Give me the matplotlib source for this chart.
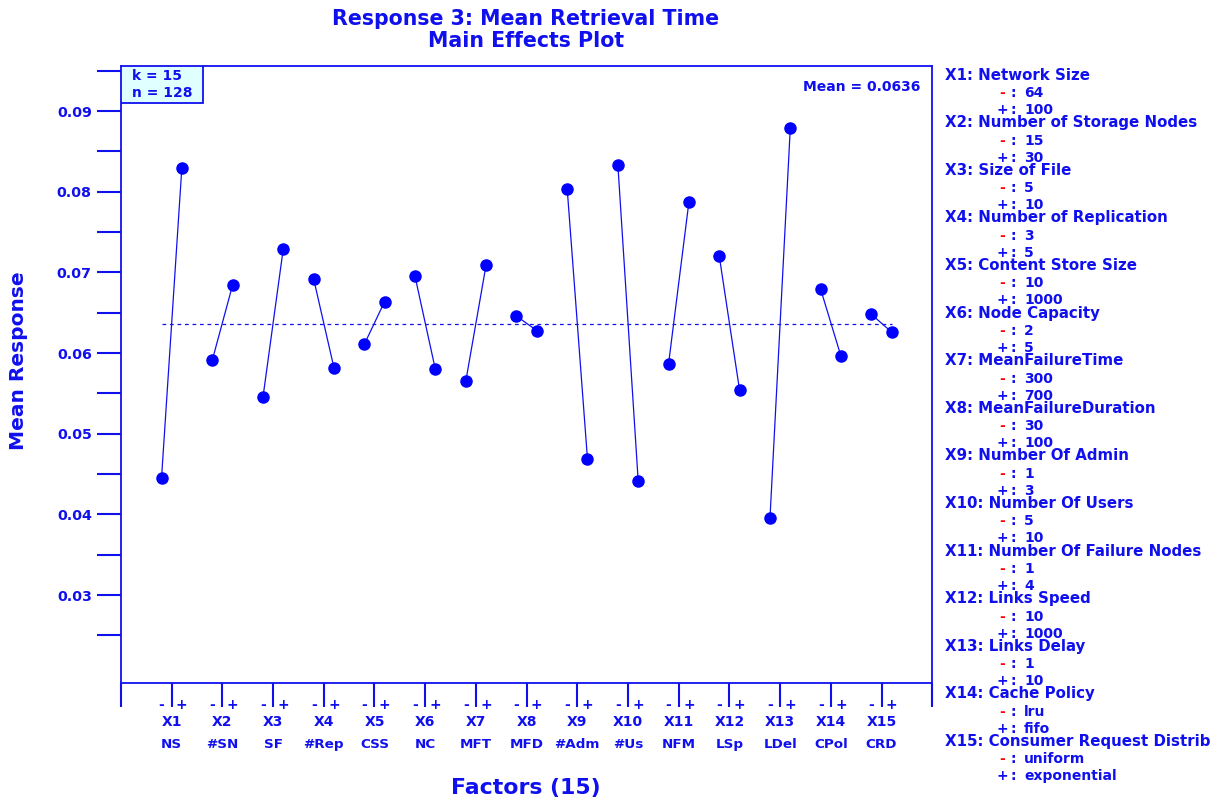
"""
Main effects plot - Response 3: Mean Retrieval Time
"""
import matplotlib
matplotlib.use('Agg')
import matplotlib.pyplot as plt
from matplotlib.patches import Rectangle

plt.rcParams['font.family'] = ['DejaVu Sans']
plt.rcParams['font.weight'] = 'bold'

BLUE = '#1010ee'

# Data
factors = ['X1', 'X2', 'X3', 'X4', 'X5', 'X6', 'X7', 'X8', 'X9', 'X10',
           'X11', 'X12', 'X13', 'X14', 'X15']
short_names = ['NS', '#SN', 'SF', '#Rep', 'CSS', 'NC', 'MFT', 'MFD', '#Adm', '#Us',
               'NFM', 'LSp', 'LDel', 'CPol', 'CRD']
low_means = [0.0445, 0.0591, 0.0545, 0.0692, 0.0611, 0.0695, 0.0565, 0.0646,
             0.0804, 0.0833, 0.0587, 0.0720, 0.0396, 0.0679, 0.0648]
high_means = [0.0829, 0.0684, 0.0729, 0.0582, 0.0664, 0.0580, 0.0709, 0.0628,
              0.0469, 0.0442, 0.0787, 0.0554, 0.0879, 0.0596, 0.0626]
grand_mean = 0.0636
k_factors = 15
n_runs = 128

legend_names = ['Network Size', 'Number of Storage Nodes', 'Size of File',
                'Number of Replication', 'Content Store Size', 'Node Capacity',
                'MeanFailureTime', 'MeanFailureDuration', 'Number Of Admin',
                'Number Of Users', 'Number Of Failure Nodes', 'Links Speed',
                'Links Delay', 'Cache Policy', 'Consumer Request Distrib']
low_levels = ['64', '15', '5', '3', '10', '2', '300', '30', '1', '5', '1', '10',
              '1', 'lru', 'uniform']
high_levels = ['100', '30', '10', '5', '1000', '5', '700', '100', '3', '10', '4',
               '1000', '10', 'fifo', 'exponential']

yticks = [0.03, 0.04, 0.05, 0.06, 0.07, 0.08, 0.09]

fig = plt.figure(figsize=(12.12, 8.05), dpi=100)
ax = fig.add_axes([0.0998, 0.1516, 0.6694, 0.7664])

off = 0.2
for i in range(len(factors)):
    pos = i + 1
    ax.plot([pos - off, pos + off], [low_means[i], high_means[i]], '-',
            color=BLUE, linewidth=0.9, marker='o', markersize=8,
            markerfacecolor='#0000ff', markeredgecolor='#0000ff', zorder=3)

ax.plot([1 - off, len(factors) + off], [grand_mean, grand_mean], '--',
        color=BLUE, linewidth=0.9, dashes=(3, 3))

ax.set_xlim(0, 16)
ax.set_ylim(0.0191, 0.0956)

# y axis ticks
ax.set_yticks(yticks)
ax.set_yticklabels([f'{t:.2f}' for t in yticks])
ax.set_yticks([t + 0.005 for t in [0.02] + yticks], minor=True)
ax.tick_params(axis='y', which='both', direction='out', length=17, width=1.5,
               color=BLUE, labelcolor=BLUE, labelsize=10.3, pad=4)

# x axis ticks
ax.set_xticks(range(0, 17))
ax.set_xticklabels([])
ax.tick_params(axis='x', which='major', direction='out', length=17, width=1.5,
               color=BLUE)

for sp in ax.spines.values():
    sp.set_color(BLUE)
    sp.set_linewidth(1.3)

trans = ax.get_xaxis_transform()
for i in range(len(factors)):
    pos = i + 1
    ax.text(pos - off, -0.036, '-', transform=trans, ha='center', va='center',
            color=BLUE, fontsize=10)
    ax.text(pos + off, -0.036, '+', transform=trans, ha='center', va='center',
            color=BLUE, fontsize=10)
    ax.text(pos, -0.064, factors[i], transform=trans, ha='center', va='center',
            color=BLUE, fontsize=10)
    ax.text(pos, -0.099, short_names[i], transform=trans, ha='center', va='center',
            color=BLUE, fontsize=9.7)

# k / n box
box = Rectangle((0, 0.94), 0.101, 0.06, transform=ax.transAxes,
                facecolor='#e0ffff', edgecolor=BLUE, linewidth=1.3, zorder=4)
ax.add_patch(box)
ax.text(0.013, 0.983, f'k = {k_factors}', transform=ax.transAxes, ha='left',
        va='center', color=BLUE, fontsize=10, zorder=5)
ax.text(0.013, 0.957, f'n = {n_runs}', transform=ax.transAxes, ha='left',
        va='center', color=BLUE, fontsize=10, zorder=5)

ax.text(0.985, 0.966, f'Mean = {grand_mean}', transform=ax.transAxes,
        ha='right', va='center', color=BLUE, fontsize=10)

# titles and axis labels
fig.text(0.434, 0.977, 'Response 3: Mean Retrieval Time', ha='center',
         va='center', color=BLUE, fontsize=14.8)
fig.text(0.434, 0.949, 'Main Effects Plot', ha='center', va='center',
         color=BLUE, fontsize=14.8)
fig.text(0.015, 0.5516, 'Mean Response', rotation=90, ha='center', va='center',
         color=BLUE, fontsize=14.5)
fig.text(0.434, 0.021, 'Factors (15)', ha='center', va='center',
         color=BLUE, fontsize=15.8)

# factor legend on the right
x_head = 945 / 1212
x_sign = 1002 / 1212
x_colon = 1013 / 1212
x_val = 1024 / 1212
for i in range(len(factors)):
    y0 = 75 + i * 47.6
    fig.text(x_head, 1 - y0 / 805, f'{factors[i]}: {legend_names[i]}',
             ha='left', va='center', color=BLUE, fontsize=10.8)
    fig.text(x_sign, 1 - (y0 + 18) / 805, '-', ha='center', va='center',
             color='red', fontsize=10)
    fig.text(x_colon, 1 - (y0 + 18) / 805, ':', ha='center',
             va='center', color=BLUE, fontsize=10)
    fig.text(x_val, 1 - (y0 + 18) / 805, low_levels[i], ha='left',
             va='center', color=BLUE, fontsize=10)
    fig.text(x_sign, 1 - (y0 + 35) / 805, '+', ha='center', va='center',
             color=BLUE, fontsize=10)
    fig.text(x_colon, 1 - (y0 + 35) / 805, ':', ha='center',
             va='center', color=BLUE, fontsize=10)
    fig.text(x_val, 1 - (y0 + 35) / 805, high_levels[i], ha='left',
             va='center', color=BLUE, fontsize=10)

fig.savefig('out.png', dpi=100)
